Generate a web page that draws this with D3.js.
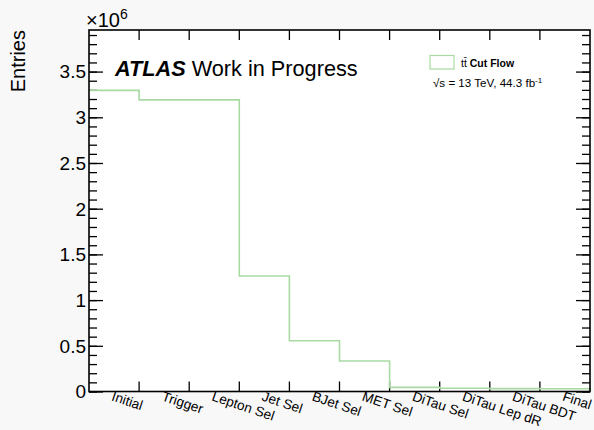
<!DOCTYPE html>
<html>
<head>
<meta charset="utf-8">
<script src="https://cdn.jsdelivr.net/npm/d3@7"></script>
<style>
  body { margin: 0; background: #f8f8f8; }
  svg { display: block; font-family: "Liberation Sans", Arial, sans-serif; }
</style>
</head>
<body>
<script>
// cut flow bins and entries
var categories = ["Initial", "Trigger", "Lepton Sel", "Jet Sel", "BJet Sel", "MET Sel",
                  "DiTau Sel", "DiTau Lep dR", "DiTau BDT", "Final"];
var entries = [3.295e6, 3.19e6, 3.19e6, 1.264e6, 0.556e6, 0.334e6,
               0.045e6, 0.035e6, 0.032e6, 0.03e6];
var yMajorTicks = [0, 0.5e6, 1e6, 1.5e6, 2e6, 2.5e6, 3e6, 3.5e6];
var yMax = 3.955e6;

var W = 594, H = 430;
var margin = {top: 30, right: 4, bottom: 38.5, left: 89},
    width = W - margin.left - margin.right,
    height = H - margin.top - margin.bottom;

var svg = d3.select("body").append("svg")
    .attr("width", W)
    .attr("height", H);

var g = svg.append("g")
    .attr("transform", "translate(" + margin.left + "," + margin.top + ")");

g.append("rect").attr("width", width).attr("height", height).attr("fill", "#fff");

var x = d3.scaleBand().domain(categories).range([0, width]).padding(0);
var y = d3.scaleLinear().domain([0, yMax]).range([height, 0]);

// minor y ticks every 0.1e6
var minor = d3.range(0, yMax, 0.1e6);

// left axis
g.append("g")
    .call(d3.axisRight(y).tickValues(minor).tickSize(8).tickFormat(""))
    .call(s => s.select(".domain").remove());
g.append("g")
    .call(d3.axisRight(y).tickValues(yMajorTicks).tickSize(14).tickFormat(""))
    .call(s => s.select(".domain").remove());
// right axis
g.append("g").attr("transform", "translate(" + width + ",0)")
    .call(d3.axisLeft(y).tickValues(minor).tickSize(8).tickFormat(""))
    .call(s => s.select(".domain").remove());
g.append("g").attr("transform", "translate(" + width + ",0)")
    .call(d3.axisLeft(y).tickValues(yMajorTicks).tickSize(14).tickFormat(""))
    .call(s => s.select(".domain").remove());

g.selectAll(".tick line").attr("stroke", "#000").attr("stroke-width", 1.3);

// y labels
g.selectAll(".ylab")
    .data(yMajorTicks)
    .enter().append("text")
    .attr("x", -3)
    .attr("y", d => y(d))
    .attr("dy", "0.36em")
    .attr("text-anchor", "end")
    .style("font-size", "19px")
    .text(d => d3.format("")(d / 1e6));

// x ticks at bin edges, bottom and top
var edges = categories.slice(1).map(c => x(c));
g.selectAll(".xtb").data(edges).enter().append("line")
    .attr("x1", d => d).attr("x2", d => d)
    .attr("y1", height).attr("y2", height - 10)
    .attr("stroke", "#000").attr("stroke-width", 1.3);
g.selectAll(".xtt").data(edges).enter().append("line")
    .attr("x1", d => d).attr("x2", d => d)
    .attr("y1", 0).attr("y2", 10)
    .attr("stroke", "#000").attr("stroke-width", 1.3);

// histogram outline
var pts = categories.map((c, i) => [x(c), y(entries[i])]);
pts.push([width, y(entries[entries.length - 1])]);
var stepPts = [];
pts.forEach((p, i) => {
    if (i > 0) stepPts.push([p[0], pts[i - 1][1]]);
    stepPts.push(p);
});
stepPts.push([width, y(0)]);
g.append("path")
    .attr("d", d3.line()(stepPts))
    .attr("fill", "none")
    .attr("stroke", "#a9d9a2")
    .attr("stroke-width", 1.6);

// frame
g.append("rect").attr("width", width).attr("height", height)
    .attr("fill", "none").attr("stroke", "#000").attr("stroke-width", 1.6);

// x labels, rotated
g.selectAll(".xlab")
    .data(categories)
    .enter().append("text")
    .attr("transform", d => "translate(" + (x(d) + x.bandwidth() / 2) + "," + (height - 1) + ") rotate(18.5)")
    .attr("dy", "0.75em")
    .style("font-size", "13.6px")
    .text(d => d);

// y title and exponent
svg.append("text")
    .attr("transform", "translate(25,30) rotate(-90)")
    .attr("text-anchor", "end")
    .style("font-size", "20px")
    .text("Entries");

var expo = svg.append("text").attr("x", 86).attr("y", 27).style("font-size", "20px");
expo.append("tspan").text("\u00d710");
expo.append("tspan").attr("dy", -8).style("font-size", "14px").text("6");

// ATLAS label
var atl = svg.append("text").attr("x", 115).attr("y", 76).style("font-size", "21.7px");
atl.append("tspan").style("font-weight", "bold").style("font-style", "italic").text("ATLAS");
atl.append("tspan").text(" Work in Progress");

// legend
svg.append("rect")
    .attr("x", 430).attr("y", 55.5).attr("width", 24).attr("height", 13.5)
    .attr("fill", "#fff").attr("stroke", "#a9d9a2").attr("stroke-width", 1.2);
var leg = svg.append("text").attr("x", 461).attr("y", 66.5).style("font-size", "10.5px");
leg.append("tspan").text("t\u0074\u0304");
leg.append("tspan").style("font-weight", "bold").text(" Cut Flow");

var lum = svg.append("text").attr("x", 433).attr("y", 87).style("font-size", "11.6px");
lum.append("tspan").text("\u221as = 13 TeV, 44.3 fb");
lum.append("tspan").attr("dy", -4).style("font-size", "8px").text("-1");
</script>
</body>
</html>
